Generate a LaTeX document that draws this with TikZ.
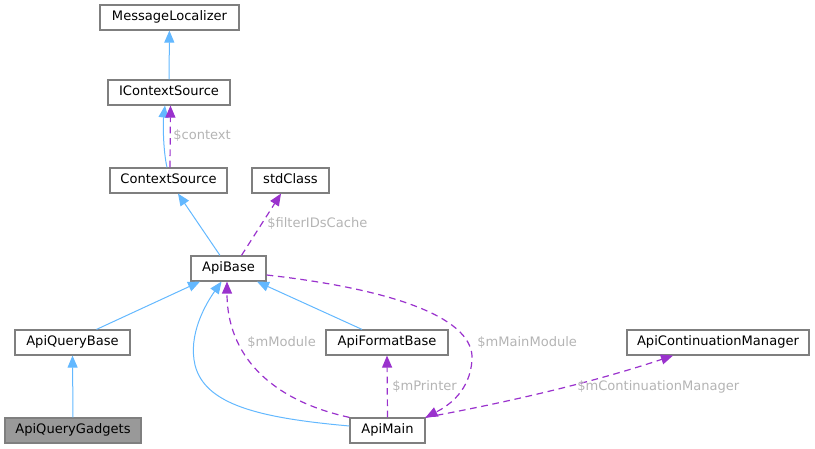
\documentclass[tikz,border=0pt]{standalone}
\usepackage{fontspec}
\setmainfont{DejaVu Sans}
\usepackage{tikz}
\usetikzlibrary{arrows.meta,calc}

\definecolor{inhblue}{HTML}{63B8FF}
\definecolor{usepurple}{HTML}{9A32CD}
\definecolor{lblgray}{HTML}{B4B4B4}
\definecolor{boxgray}{HTML}{7F7F7F}
\definecolor{selgray}{HTML}{999999}

\begin{document}
\begin{tikzpicture}[x=0.75pt,y=-0.75pt,>={Triangle[length=9pt,width=7.5pt]},
                    font=\fontsize{9.8pt}{11pt}\selectfont,
                    class node/.style={rectangle, draw=boxgray, line width=0.9pt, fill=white,
                                       minimum height=18.75pt, inner sep=0pt,
                                       text height=7.2pt, text depth=2pt},
                    sel node/.style={class node, fill=selgray},
                    inh/.style={->, draw=inhblue, line width=0.75pt},
                    use/.style={->, draw=usepurple, line width=0.9pt,
                                dash pattern=on 5pt off 3.5pt},
                    lbl/.style={text=lblgray, anchor=west, inner sep=0pt}]

  \useasboundingbox (0,0) rectangle (815,449);

  %Top%
  \node[class node, minimum width=104.25pt] (loc)    at (169.5,17.5) {MessageLocalizer};
  \node[class node, minimum width=91.5pt]   (ictx)   at (169,92.5)   {IContextSource};
  \node[class node, minimum width=87.75pt]  (ctx)    at (168.5,180.5){ContextSource};
  \node[class node, minimum width=57.75pt]  (std)    at (290.5,180.5){stdClass};
  %Middle%
  \node[class node, minimum width=56.25pt]  (apibase) at (228.5,268.5){ApiBase};
  \node[class node, minimum width=86.25pt]  (qbase)  at (72.5,342.5)  {ApiQueryBase};
  \node[class node, minimum width=91.5pt]   (fbase)  at (387,342.5)   {ApiFormatBase};
  \node[class node, minimum width=136.5pt]  (contmgr) at (718,342.5) {ApiContinuationManager};
  %Bottom%
  \node[sel node, minimum width=102pt]      (gadgets) at (73,430.5)  {ApiQueryGadgets};
  \node[class node, minimum width=56.25pt]  (apimain) at (387.5,430.5){ApiMain};

  %Inheritance%
  \draw[inh] (ictx) -- (loc);
  \draw[inh] ($(ctx.north)+(-1.5,0)$) .. controls (163,150) and (163,122) .. ($(ictx.south)+(-4,0)$);
  \draw[inh] ($(apibase.north)+(-8.5,0)$) -- ($(ctx.south)+(9.5,0)$);
  \draw[inh] ($(qbase.north)+(24,0)$) -- ($(apibase.south)+(-28.5,0)$);
  \draw[inh] (gadgets.north) -- (qbase.south);
  \draw[inh] ($(fbase.north)+(-25,0)$) -- ($(apibase.south)+(28.5,0)$);
  \draw[inh] ($(apimain.west)+(0,-4.5)$) .. controls (260,418) and (205,405) .. (195,365)
             .. controls (188,335) and (205,305) .. ($(apibase.south)+(-7,0)$);

  %Usage%
  \draw[use] ($(ctx.north)+(1.5,0)$) -- ($(ictx.south)+(1.5,0)$);
  \draw[use] ($(apibase.north)+(13,0)$) -- ($(std.south)+(-9.5,0)$);
  \draw[use] (apimain.north west) .. controls (270,400) and (227,355) .. ($(apibase.south)+(-1.5,0)$);
  \draw[use] (apimain.north) -- (fbase.south);
  \draw[use] ($(apibase.east)+(0,6.5)$) .. controls (400,290) and (475,320) .. (472,360)
             .. controls (470,390) and (450,405) .. (apimain.north east);
  \draw[use] (apimain.north east) .. controls (520,400) and (600,380) .. ($(contmgr.south)+(-45,0)$);

  %Labels%
  \node[lbl] (lctx)  at (173,135.5) {\$context};
  \node[lbl] (lfid)  at (267,223)   {\$filterIDsCache};
  \node[lbl] (lmod)  at (247,342)   {\$mModule};
  \node[lbl] (lmain) at (477,342)   {\$mMainModule};
  \node[lbl] (lprn)  at (392,386.5) {\$mPrinter};
  \node[lbl] (lcm)   at (577,386.5) {\$mContinuationManager};
\end{tikzpicture}
\end{document}
